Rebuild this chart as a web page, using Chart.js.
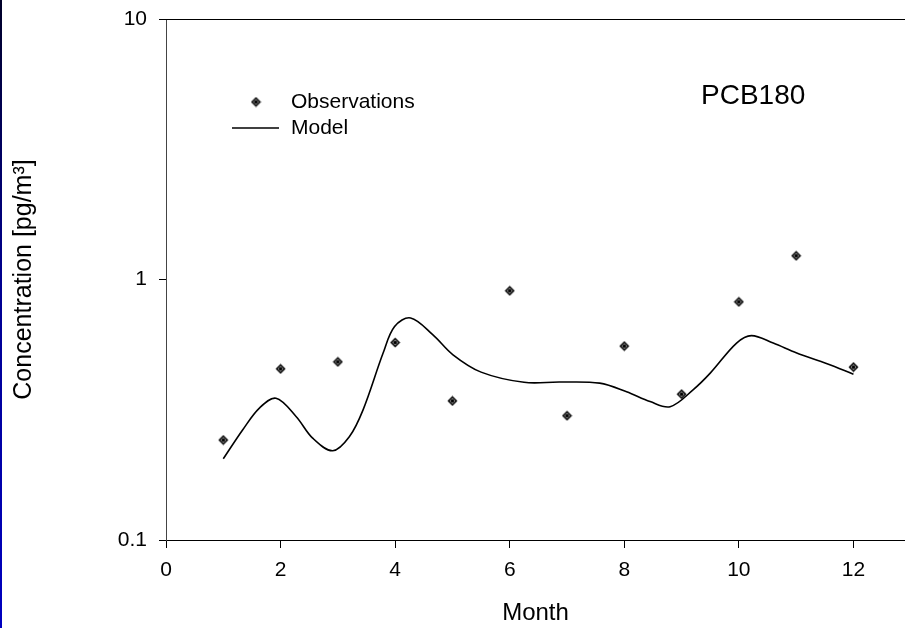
<!DOCTYPE html>
<html lang="en">
<head>
  <meta charset="UTF-8">
  <title>PCB180 monthly concentration</title>
  <script src="https://cdn.jsdelivr.net/npm/chart.js"></script>
  <style>
    body {
      margin: 0;
      background: #fff;
    }
    #chart-container {
      width: 905px;
      height: 628px;
      position: relative;
    }
    #edge {
      position: absolute;
      left: 0;
      top: 0;
      width: 2px;
      height: 628px;
      background: linear-gradient(#000028, #000090 45%, #0000c0);
    }
  </style>
</head>
<body>

  <div id="chart-container">
    <canvas id="pcbChart"></canvas>
    <div id="edge"></div>
  </div>

  <script>
    // Observed monthly means
    const obsMonths = [1, 2, 3, 4, 5, 6, 7, 8, 9, 10, 11, 12];
    const obsValues = [0.242, 0.454, 0.483, 0.573, 0.342, 0.905, 0.300, 0.555, 0.363, 0.821, 1.233, 0.461];

    // Model curve
    const modelMonths = [1.0, 1.34, 1.63, 1.92, 2.27, 2.56, 2.91, 3.2, 3.44, 3.79, 3.99, 4.27, 4.66, 5.01, 5.5, 6.25, 6.88, 7.57, 8.04, 8.45, 8.8, 9.2, 9.5, 9.96, 10.22, 10.6, 11.01, 11.54, 12.0];
    const modelValues = [0.205, 0.265, 0.321, 0.350, 0.298, 0.246, 0.220, 0.249, 0.316, 0.522, 0.660, 0.712, 0.613, 0.514, 0.441, 0.403, 0.404, 0.400, 0.371, 0.340, 0.325, 0.377, 0.437, 0.570, 0.609, 0.570, 0.522, 0.475, 0.433];

    const xTicks = [0, 2, 4, 6, 8, 10, 12];
    const yTicks = [0.1, 1, 10];

    const FONT = "Arial, 'Liberation Sans', sans-serif";

    // diamond marker with a dot in the middle
    function makeMarker() {
      const c = document.createElement("canvas");
      c.width = 11;
      c.height = 11;
      const g = c.getContext("2d");
      g.fillStyle = "#000";
      g.beginPath();
      g.moveTo(5.5, 0.5); g.lineTo(10.5, 5.5); g.lineTo(5.5, 10.5); g.lineTo(0.5, 5.5);
      g.closePath();
      g.fill();
      g.fillStyle = "#aaa";
      g.beginPath();
      g.moveTo(5.5, 2.5); g.lineTo(8.5, 5.5); g.lineTo(5.5, 8.5); g.lineTo(2.5, 5.5);
      g.closePath();
      g.fill();
      g.fillStyle = "#000";
      g.beginPath();
      g.arc(5.5, 5.5, 1.7, 0, Math.PI * 2);
      g.fill();
      return c;
    }
    const marker = makeMarker();

    // top frame line, legend and label inside the plot
    const extras = {
      id: "extras",
      afterDraw(chart) {
        const { ctx, chartArea } = chart;
        ctx.save();
        ctx.strokeStyle = "#000";
        ctx.lineWidth = 1;
        ctx.beginPath();
        ctx.moveTo(chartArea.left - 7, Math.round(chartArea.top) + 0.5);
        ctx.lineTo(chartArea.right, Math.round(chartArea.top) + 0.5);
        ctx.stroke();

        const ds = chart.data.datasets;
        ctx.font = "21px " + FONT;
        ctx.fillStyle = "#000";
        ctx.textBaseline = "middle";
        ctx.drawImage(marker, 256 - 5.5, 102 - 5.5);
        ctx.fillText(ds[0].label, 291, 102);
        ctx.lineWidth = 1.5;
        ctx.beginPath();
        ctx.moveTo(232, 128);
        ctx.lineTo(279, 128);
        ctx.stroke();
        ctx.fillText(ds[1].label, 291, 128);

        ctx.font = "28px " + FONT;
        ctx.fillText("PCB180", 701, 96);
        ctx.restore();
      }
    };

    const ctx = document.getElementById("pcbChart").getContext("2d");
    new Chart(ctx, {
      type: "scatter",
      data: {
        datasets: [{
          label: "Observations",
          data: obsMonths.map((m, i) => ({ x: m, y: obsValues[i] })),
          pointStyle: marker,
          pointRadius: 5,
          showLine: false
        }, {
          label: "Model",
          data: modelMonths.map((m, i) => ({ x: m, y: modelValues[i] })),
          showLine: true,
          borderColor: "#000",
          borderWidth: 1.6,
          pointRadius: 0,
          tension: 0.35,
          fill: false
        }]
      },
      options: {
        responsive: true,
        maintainAspectRatio: false,
        animation: false,
        layout: { autoPadding: false, padding: { top: 19, right: 0, left: 0, bottom: 0 } },
        scales: {
          x: {
            type: "linear",
            bounds: "data",
            min: 0,
            max: 12.9,
            afterBuildTicks: s => { s.ticks = xTicks.map(v => ({ value: v })); },
            afterFit: s => { s.height = 88; s.paddingLeft = 0; s.paddingRight = 0; },
            ticks: {
              color: "#000",
              font: { family: FONT, size: 21 },
              padding: 10,
              maxRotation: 0
            },
            grid: { drawOnChartArea: false, color: "#000", tickLength: 8 },
            border: { color: "#000", width: 1 },
            title: {
              display: true,
              text: "Month",
              color: "#000",
              font: { family: FONT, size: 24 },
              padding: 0
            }
          },
          y: {
            type: "logarithmic",
            min: 0.1,
            max: 10,
            afterBuildTicks: s => { s.ticks = yTicks.map(v => ({ value: v })); },
            afterFit: s => { s.width = 166; s.paddingTop = 0; s.paddingBottom = 0; },
            ticks: {
              color: "#000",
              font: { family: FONT, size: 21 },
              padding: 12,
              callback: v => String(v)
            },
            grid: { drawOnChartArea: false, color: "#000", tickLength: 7 },
            border: { color: "#444", width: 1 },
            title: {
              display: true,
              text: "Concentration [pg/m³]",
              color: "#000",
              font: { family: FONT, size: 25 },
              padding: { top: 9, bottom: 0 }
            }
          }
        },
        plugins: {
          legend: { display: false },
          tooltip: { enabled: false }
        }
      },
      plugins: [extras]
    });
  </script>
</body>
</html>
